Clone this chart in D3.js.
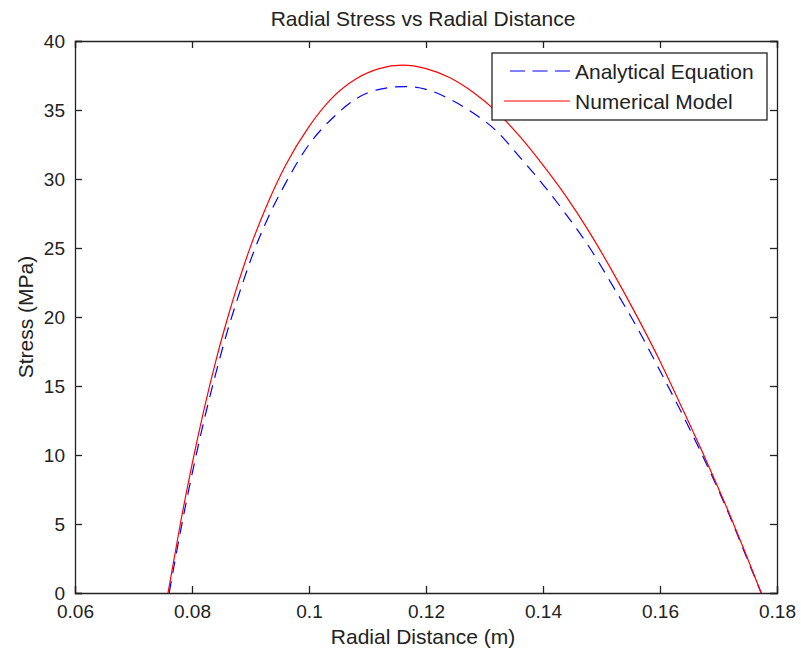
<!DOCTYPE html>
<html>
<head>
<meta charset="utf-8">
<script src="https://cdn.jsdelivr.net/npm/d3@7"></script>
<style>
body { margin: 0; background: #fff; }
text { font-family: "Liberation Sans", Arial, sans-serif; fill: #222; }
</style>
</head>
<body>
<div id="graphic"></div>
<script>
// values (radial distance in m, stress in MPa)
var analyticalX = [0.0761, 0.078, 0.080, 0.082, 0.084, 0.086, 0.088, 0.090, 0.093, 0.096, 0.100, 0.104, 0.108, 0.112, 0.1165, 0.120, 0.124, 0.128, 0.132, 0.136, 0.140, 0.144, 0.148, 0.152, 0.156, 0.160, 0.164, 0.168, 0.172, 0.1745, 0.1773];
var analyticalY = [0.0, 4.4, 8.6, 12.4, 15.8, 18.9, 21.6, 24.1, 27.2, 29.7, 32.5, 34.4, 35.8, 36.5, 36.7, 36.5, 35.8, 34.8, 33.5, 31.6, 29.6, 27.4, 25.0, 22.2, 19.3, 16.1, 12.8, 9.3, 5.5, 2.9, 0.0];

var numericalX = [0.0759, 0.078, 0.080, 0.082, 0.084, 0.086, 0.088, 0.090, 0.093, 0.096, 0.100, 0.104, 0.108, 0.112, 0.116, 0.120, 0.124, 0.128, 0.132, 0.136, 0.140, 0.144, 0.148, 0.152, 0.156, 0.160, 0.164, 0.168, 0.172, 0.1745, 0.1773];
var numericalY = [0.0, 5.0, 9.3, 13.2, 16.7, 19.8, 22.6, 25.1, 28.3, 31.0, 33.8, 35.9, 37.25, 38.0, 38.25, 38.0, 37.35, 36.3, 34.9, 33.1, 31.0, 28.7, 26.1, 23.2, 20.1, 16.8, 13.2, 9.5, 5.6, 3.0, 0.0];

var xTicks = [0.06, 0.08, 0.1, 0.12, 0.14, 0.16, 0.18];
var yTicks = [0, 5, 10, 15, 20, 25, 30, 35, 40];

var series = [
	{ name: 'Analytical Equation', xs: analyticalX, ys: analyticalY, colour: '#0000ff', dash: '12,8', legendDash: '15,7.5', legendStart: 18 },
	{ name: 'Numerical Model', xs: numericalX, ys: numericalY, colour: '#ff0000', dash: null, legendDash: null, legendStart: 12 }
];

var width = 801, height = 653;
var margin = { top: 41, right: 24, bottom: 60, left: 75 };
var chart_width = width - margin.left - margin.right;
var chart_height = height - margin.top - margin.bottom;

var svg = d3.select('#graphic')
	.append('svg')
	.attr('width', width)
	.attr('height', height)
	.style('background-color', '#fff');

var g = svg.append('g')
	.attr('transform', 'translate(' + margin.left + ',' + margin.top + ')');

var x = d3.scaleLinear().domain([0.06, 0.18]).range([0, chart_width]);
var y = d3.scaleLinear().domain([0, 40]).range([chart_height, 0]);

var fmt = function (d) { return String(d); };

// axes, ticks pointing inward on all four sides
var xAxis = d3.axisBottom(x).tickValues(xTicks).tickSize(-7).tickPadding(12).tickFormat(fmt);
var xAxisTop = d3.axisTop(x).tickValues(xTicks).tickSize(-7).tickFormat('');
var yAxis = d3.axisLeft(y).tickValues(yTicks).tickSize(-7).tickPadding(10).tickFormat(fmt);
var yAxisRight = d3.axisRight(y).tickValues(yTicks).tickSize(-7).tickFormat('');

g.append('g').attr('class', 'x axis').attr('transform', 'translate(0,' + chart_height + ')').call(xAxis);
g.append('g').attr('class', 'x axis').call(xAxisTop);
g.append('g').attr('class', 'y axis').call(yAxis);
g.append('g').attr('class', 'y axis').attr('transform', 'translate(' + chart_width + ',0)').call(yAxisRight);

g.selectAll('.axis path.domain').attr('stroke', '#222').attr('stroke-width', 1.3);
g.selectAll('.axis line').attr('stroke', '#222').attr('stroke-width', 1.3);
g.selectAll('.axis text').style('font-size', '19px').attr('fill', '#222');

// lines
var line = d3.line()
	.x(function (d) { return x(d[0]); })
	.y(function (d) { return y(d[1]); })
	.curve(d3.curveMonotoneX);

series.forEach(function (s) {
	var pts = s.xs.map(function (v, i) { return [v, s.ys[i]]; });
	g.append('path')
		.datum(pts)
		.attr('fill', 'none')
		.attr('stroke', s.colour)
		.attr('stroke-width', 1.2)
		.attr('stroke-dasharray', s.dash)
		.attr('d', line);
});

// titles
svg.append('text')
	.attr('x', 423)
	.attr('y', 26)
	.attr('text-anchor', 'middle')
	.style('font-size', '21px')
	.text('Radial Stress vs Radial Distance');

svg.append('text')
	.attr('x', 423)
	.attr('y', 644)
	.attr('text-anchor', 'middle')
	.style('font-size', '21px')
	.text('Radial Distance (m)');

svg.append('text')
	.attr('transform', 'translate(33,' + (margin.top + chart_height / 2) + ') rotate(-90)')
	.attr('text-anchor', 'middle')
	.style('font-size', '21px')
	.text('Stress (MPa)');

// legend
var legend = svg.append('g').attr('transform', 'translate(492,53)');
legend.append('rect')
	.attr('width', 275)
	.attr('height', 67)
	.attr('fill', '#fff')
	.attr('stroke', '#222')
	.attr('stroke-width', 1.3);

series.forEach(function (s, i) {
	var row = legend.append('g').attr('transform', 'translate(0,' + (18 + i * 30) + ')');
	row.append('line')
		.attr('x1', s.legendStart).attr('x2', 78)
		.attr('stroke', s.colour)
		.attr('stroke-width', 1.2)
		.attr('stroke-dasharray', s.legendDash);
	row.append('text')
		.attr('x', 83)
		.attr('y', 7.5)
		.style('font-size', '21px')
		.text(s.name);
});
</script>
</body>
</html>
